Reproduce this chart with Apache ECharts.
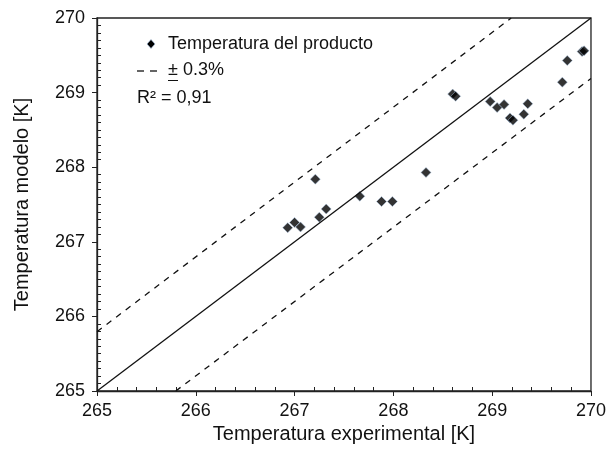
<!DOCTYPE html>
<html><head><meta charset="utf-8">
<script src="https://cdn.jsdelivr.net/npm/echarts@6/dist/echarts.min.js"></script>
<style>html,body{margin:0;padding:0;background:#fff}#c{width:609px;height:450px}</style>
</head><body><div id="c"></div>
<script>
const expT = [266.93, 267.00, 267.06, 267.21, 267.25, 267.32, 267.66, 267.88, 267.99, 268.33, 268.60, 268.63, 268.98, 269.05, 269.12, 269.18, 269.21, 269.32, 269.36, 269.71, 269.76, 269.91, 269.93];
const modT = [267.19, 267.26, 267.20, 267.84, 267.33, 267.44, 267.61, 267.54, 267.54, 267.93, 268.98, 268.95, 268.88, 268.80, 268.84, 268.66, 268.63, 268.71, 268.85, 269.14, 269.43, 269.55, 269.56];
const xTicks = [265, 266, 267, 268, 269, 270];
const yTicks = [265, 266, 267, 268, 269, 270];
const identityLine = [[265, 265], [270, 270]];
const upperLine = [[265, 265 * 1.003], [270 / 1.003, 270]];
const lowerLine = [[265 / 0.997, 265], [270, 270 * 0.997]];
const seriesName = 'Temperatura del producto';
const bandLabel = '\u00b1 0.3%';
const r2Label = 'R\u00b2 = 0,91';

const font = '"Liberation Sans", Arial, Helvetica, sans-serif';
const chart = echarts.init(document.getElementById('c'));
const axisCommon = {
  type: 'value', min: 265, max: 270, interval: 1,
  axisLine: { show: true, lineStyle: { color: '#222', width: 1.3 } },
  axisTick: { show: true, inside: false, length: 5, lineStyle: { color: '#222' } },
  splitLine: { show: false },
  axisLabel: { color: '#111', fontSize: 18, fontFamily: font },
  nameLocation: 'middle',
  nameTextStyle: { color: '#111', fontSize: 20, fontFamily: font }
};
chart.setOption({
  animation: false,
  grid: { left: 97, right: 16, top: 18, bottom: 59, show: true, borderColor: '#222', borderWidth: 1.3 },
  xAxis: Object.assign({}, axisCommon, {
    name: 'Temperatura experimental [K]', nameGap: 33,
    minorTick: { show: true, splitNumber: 5, length: -4, lineStyle: { color: '#222' } },
    axisLabel: Object.assign({}, axisCommon.axisLabel, { margin: 11, formatter: v => xTicks.includes(v) ? String(v) : '' })
  }),
  yAxis: Object.assign({}, axisCommon, {
    name: 'Temperatura modelo [K]', nameGap: 65,
    minorTick: { show: true, splitNumber: 10, length: -4, lineStyle: { color: '#222' } },
    axisLabel: Object.assign({}, axisCommon.axisLabel, { margin: 12, formatter: v => yTicks.includes(v) ? String(v) : '' })
  }),
  series: [
    { type: 'line', data: identityLine, symbol: 'none', lineStyle: { color: '#111', width: 1.3 }, silent: true },
    { type: 'line', data: upperLine, symbol: 'none', lineStyle: { color: '#111', width: 1.3, type: [6, 6] }, silent: true },
    { type: 'line', data: lowerLine, symbol: 'none', lineStyle: { color: '#111', width: 1.3, type: [6, 6] }, silent: true },
    { type: 'scatter', name: seriesName, data: expT.map((x, i) => [x, modT[i]]), symbol: 'diamond', symbolSize: 10,
      itemStyle: { color: '#000', borderColor: '#a8c4e4', borderWidth: 0.6 } }
  ],
  graphic: [
    { type: 'polygon', shape: { points: [[151, 39.5], [155, 44], [151, 48.5], [147, 44]] }, style: { fill: '#000', stroke: '#a8c4e4', lineWidth: 0.6 } },
    { type: 'text', left: 168, top: 35, style: { text: seriesName, font: '18px ' + font, fill: '#111' } },
    { type: 'line', shape: { x1: 137, y1: 71, x2: 144, y2: 71 }, style: { stroke: '#111', lineWidth: 1.3 } },
    { type: 'line', shape: { x1: 150, y1: 71, x2: 157, y2: 71 }, style: { stroke: '#111', lineWidth: 1.3 } },
    { type: 'text', left: 168, top: 61, style: { text: bandLabel, font: '18px ' + font, fill: '#111' } },
    { type: 'line', shape: { x1: 168, y1: 80.5, x2: 178, y2: 80.5 }, style: { stroke: '#111', lineWidth: 1 } },
    { type: 'text', left: 137, top: 89, style: { text: r2Label, font: '18px ' + font, fill: '#111' } }
  ]
});
</script></body></html>
